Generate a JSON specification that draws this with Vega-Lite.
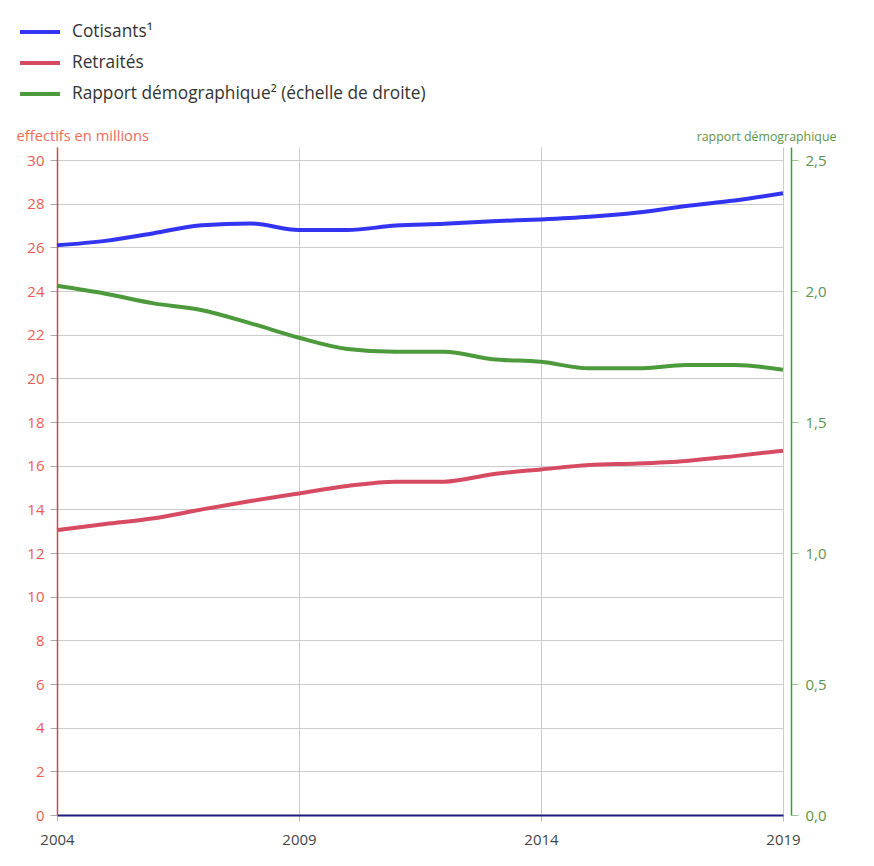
{
  "$schema": "https://vega.github.io/schema/vega-lite/v6.json",
  "width": 726,
  "height": 668,
  "autosize": {"type": "none"},
  "padding": {"left": 57, "top": 147, "right": 91, "bottom": 51},
  "background": "white",
  "config": {
    "font": "Open Sans",
    "view": {"stroke": null}
  },
  "data": {
    "values": [
      {"annee": 2004, "serie": "Cotisants¹", "valeur": 26.1},
      {"annee": 2005, "serie": "Cotisants¹", "valeur": 26.3},
      {"annee": 2006, "serie": "Cotisants¹", "valeur": 26.65},
      {"annee": 2007, "serie": "Cotisants¹", "valeur": 27.02},
      {"annee": 2008, "serie": "Cotisants¹", "valeur": 27.1},
      {"annee": 2009, "serie": "Cotisants¹", "valeur": 26.8},
      {"annee": 2010, "serie": "Cotisants¹", "valeur": 26.8},
      {"annee": 2011, "serie": "Cotisants¹", "valeur": 27.0},
      {"annee": 2012, "serie": "Cotisants¹", "valeur": 27.08},
      {"annee": 2013, "serie": "Cotisants¹", "valeur": 27.2},
      {"annee": 2014, "serie": "Cotisants¹", "valeur": 27.28},
      {"annee": 2015, "serie": "Cotisants¹", "valeur": 27.4},
      {"annee": 2016, "serie": "Cotisants¹", "valeur": 27.6},
      {"annee": 2017, "serie": "Cotisants¹", "valeur": 27.9},
      {"annee": 2018, "serie": "Cotisants¹", "valeur": 28.15},
      {"annee": 2019, "serie": "Cotisants¹", "valeur": 28.48},
      {"annee": 2004, "serie": "Retraités", "valeur": 13.05},
      {"annee": 2005, "serie": "Retraités", "valeur": 13.33},
      {"annee": 2006, "serie": "Retraités", "valeur": 13.59},
      {"annee": 2007, "serie": "Retraités", "valeur": 14.0},
      {"annee": 2008, "serie": "Retraités", "valeur": 14.38},
      {"annee": 2009, "serie": "Retraités", "valeur": 14.73},
      {"annee": 2010, "serie": "Retraités", "valeur": 15.07},
      {"annee": 2011, "serie": "Retraités", "valeur": 15.27},
      {"annee": 2012, "serie": "Retraités", "valeur": 15.27},
      {"annee": 2013, "serie": "Retraités", "valeur": 15.61},
      {"annee": 2014, "serie": "Retraités", "valeur": 15.83},
      {"annee": 2015, "serie": "Retraités", "valeur": 16.03},
      {"annee": 2016, "serie": "Retraités", "valeur": 16.1},
      {"annee": 2017, "serie": "Retraités", "valeur": 16.22},
      {"annee": 2018, "serie": "Retraités", "valeur": 16.44},
      {"annee": 2019, "serie": "Retraités", "valeur": 16.69},
      {"annee": 2004, "serie": "Rapport démographique² (échelle de droite)", "valeur": 2.02},
      {"annee": 2005, "serie": "Rapport démographique² (échelle de droite)", "valeur": 1.99},
      {"annee": 2006, "serie": "Rapport démographique² (échelle de droite)", "valeur": 1.953},
      {"annee": 2007, "serie": "Rapport démographique² (échelle de droite)", "valeur": 1.927},
      {"annee": 2008, "serie": "Rapport démographique² (échelle de droite)", "valeur": 1.877},
      {"annee": 2009, "serie": "Rapport démographique² (échelle de droite)", "valeur": 1.822},
      {"annee": 2010, "serie": "Rapport démographique² (échelle de droite)", "valeur": 1.779},
      {"annee": 2011, "serie": "Rapport démographique² (échelle de droite)", "valeur": 1.768},
      {"annee": 2012, "serie": "Rapport démographique² (échelle de droite)", "valeur": 1.768},
      {"annee": 2013, "serie": "Rapport démographique² (échelle de droite)", "valeur": 1.74},
      {"annee": 2014, "serie": "Rapport démographique² (échelle de droite)", "valeur": 1.73},
      {"annee": 2015, "serie": "Rapport démographique² (échelle de droite)", "valeur": 1.705},
      {"annee": 2016, "serie": "Rapport démographique² (échelle de droite)", "valeur": 1.705},
      {"annee": 2017, "serie": "Rapport démographique² (échelle de droite)", "valeur": 1.718},
      {"annee": 2018, "serie": "Rapport démographique² (échelle de droite)", "valeur": 1.718},
      {"annee": 2019, "serie": "Rapport démographique² (échelle de droite)", "valeur": 1.70}
    ]
  },
  "encoding": {
    "x": {
      "field": "annee", "type": "quantitative",
      "scale": {"domain": [2004, 2019], "nice": false, "zero": false},
      "axis": {
        "title": null, "values": [2004, 2009, 2014, 2019], "format": "d",
        "labelFlush": false, "labelFontSize": 15, "labelFont": "Open Sans",
        "domainColor": "#1a1a80", "domainWidth": 2,
        "tickColor": "#bbbbbb", "tickSize": 6,
        "gridColor": "#cccccc", "gridWidth": 1,
        "labelColor": "#444444", "labelPadding": 11
      }
    },
    "color": {
      "field": "serie", "type": "nominal",
      "scale": {
        "domain": ["Cotisants¹", "Retraités", "Rapport démographique² (échelle de droite)"],
        "range": ["#3333f2", "#d64a62", "#4c9a3c"]
      },
      "legend": {
        "title": null, "orient": "none", "legendX": -39, "legendY": -137,
        "direction": "vertical", "symbolType": "stroke", "symbolStrokeWidth": 4,
        "symbolSize": 1600, "labelFontSize": 17.3, "labelColor": "#333333",
        "labelFont": "Open Sans", "labelOffset": 10, "rowPadding": -7, "labelLimit": 600
      }
    }
  },
  "layer": [
    {
      "transform": [{"filter": "datum.serie !== 'Rapport démographique² (échelle de droite)'"}],
      "mark": {"type": "line", "strokeWidth": 4, "interpolate": "monotone"},
      "encoding": {
        "y": {
          "field": "valeur", "type": "quantitative",
          "scale": {"domain": [0, 30.6], "nice": false},
          "axis": {
            "title": "effectifs en millions", "titleAngle": 0, "titleAlign": "left",
            "titleBaseline": "alphabetic", "titleX": -41, "titleY": -7,
            "titleColor": "#f06a5c", "titleFontSize": 14.7, "titleFontWeight": "normal", "titleFont": "Open Sans",
            "values": [0, 2, 4, 6, 8, 10, 12, 14, 16, 18, 20, 22, 24, 26, 28, 30],
            "domainColor": "#d94545", "domainWidth": 1.5,
            "tickColor": "#aaaaaa", "tickSize": 7,
            "labelColor": "#ef5a55", "labelPadding": 6, "labelFontSize": 15, "labelFont": "Open Sans",
            "gridColor": "#cccccc", "gridWidth": 1
          }
        }
      }
    },
    {
      "transform": [{"filter": "datum.serie === 'Rapport démographique² (échelle de droite)'"}],
      "mark": {"type": "line", "strokeWidth": 4, "interpolate": "monotone"},
      "encoding": {
        "y": {
          "field": "valeur", "type": "quantitative",
          "scale": {"domain": [0, 2.55], "nice": false},
          "axis": {
            "orient": "right", "offset": 8, "grid": false,
            "title": "rapport démographique", "titleAngle": 0, "titleAlign": "right",
            "titleBaseline": "alphabetic", "titleX": 45, "titleY": -7,
            "titleColor": "#5e9448", "titleFontSize": 12.4, "titleFontWeight": "normal", "titleFont": "Open Sans",
            "values": [0, 0.5, 1, 1.5, 2, 2.5],
            "labelExpr": "replace(format(datum.value, '.1f'), '.', ',')",
            "domainColor": "#3f9a36", "domainWidth": 1.5,
            "tickColor": "#9acb8e", "tickSize": 7,
            "labelColor": "#5e9448", "labelPadding": 7, "labelFontSize": 15, "labelFont": "Open Sans"
          }
        }
      }
    }
  ],
  "resolve": {"scale": {"y": "independent"}}
}
